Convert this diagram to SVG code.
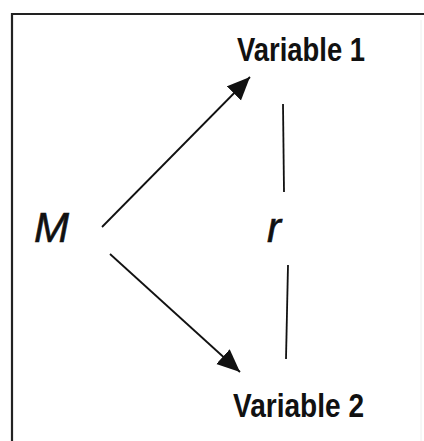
<svg xmlns="http://www.w3.org/2000/svg" width="424" height="441" viewBox="0 0 424 441">
<style>
.frame{fill:none;stroke:#222;stroke-width:2.2}
.edge{stroke:#111;stroke-width:1.8;fill:none}
.lbl{font-family:"Liberation Sans",Arial,sans-serif;font-weight:bold;font-size:34px;fill:#111}
.sym{font-family:"Liberation Sans",Arial,sans-serif;font-style:italic;font-size:42px;fill:#111;stroke:#111;stroke-width:0.6}
</style>
<defs>
<marker id="ah" markerUnits="userSpaceOnUse" markerWidth="24" markerHeight="22" refX="23" refY="10" orient="auto">
<path d="M0,0 L23,10 L0,20 z" fill="#111"/>
</marker>
</defs>
<rect width="424" height="441" fill="#fff"/>
<path class="frame" d="M12,445 V14 H430"/>
<line x1="421" y1="20" x2="421" y2="441" stroke="#eee" stroke-width="1"/>
<g id="connectors">
<line class="edge" x1="102" y1="227" x2="250" y2="77" marker-end="url(#ah)"/>
<line class="edge" x1="110" y1="254" x2="240" y2="372" marker-end="url(#ah)"/>
<line class="edge" x1="283" y1="104" x2="284" y2="192"/>
<line class="edge" x1="288" y1="265" x2="286" y2="359"/>
</g>
<g id="var1"><text class="lbl" x="237" y="61" textLength="128" lengthAdjust="spacingAndGlyphs">Variable 1</text></g>
<g id="var2"><text class="lbl" x="233" y="417" textLength="131" lengthAdjust="spacingAndGlyphs">Variable 2</text></g>
<g id="M"><text class="sym" x="34" y="242">M</text></g>
<g id="r"><text class="sym" x="267" y="242">r</text></g>
</svg>
